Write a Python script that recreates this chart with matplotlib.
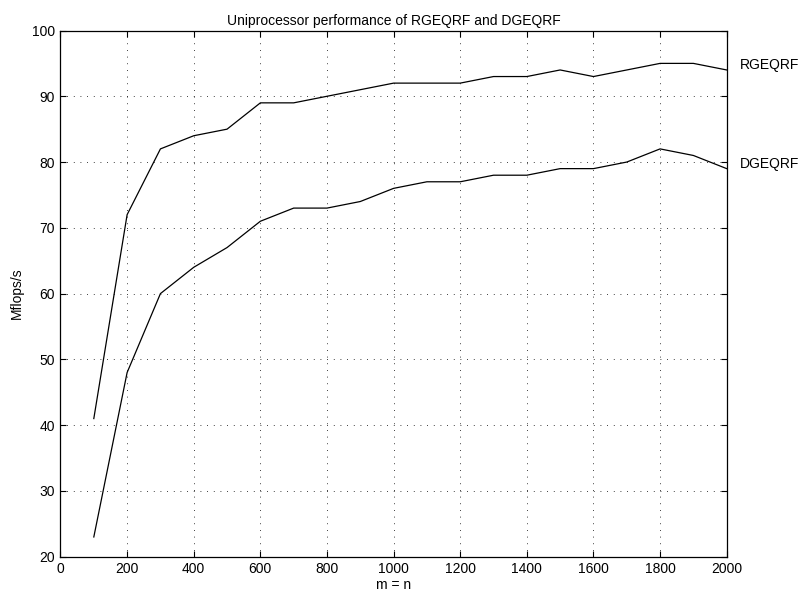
import matplotlib
matplotlib.use("Agg")
import matplotlib.pyplot as plt

plt.rcParams['font.family'] = ['Liberation Sans', 'DejaVu Sans']

sizes = [100, 200, 300, 400, 500, 600, 700, 800, 900, 1000,
         1100, 1200, 1300, 1400, 1500, 1600, 1700, 1800, 1900, 2000]
rgeqrf = [41, 72, 82, 84, 85, 89, 89, 90, 91, 92,
          92, 92, 93, 93, 94, 93, 94, 95, 95, 94]
dgeqrf = [23, 48, 60, 64, 67, 71, 73, 73, 74, 76,
          77, 77, 78, 78, 79, 79, 80, 82, 81, 79]
series_labels = ["RGEQRF", "DGEQRF"]
xticks = list(range(0, 2001, 200))
yticks = list(range(20, 101, 10))

W, H = 803, 596
fig = plt.figure(figsize=(W / 100, H / 100), dpi=100)
left, right, top, bottom = 60.5, 726.7, 30.5, 556.7
ax = fig.add_axes([left / W, 1 - bottom / H, (right - left) / W, (bottom - top) / H])

for ys, lab in zip([rgeqrf, dgeqrf], series_labels):
    ax.plot(sizes, ys, color='black', linewidth=0.9)
    ax.annotate(lab, xy=(sizes[-1], ys[-1]), xycoords='data',
                xytext=(9.5, 3.5 if lab == "RGEQRF" else 3), textcoords='offset points',
                ha='left', va='center', fontsize=10)

ax.set_xlim(0, 2000)
ax.set_ylim(20, 100)
ax.set_xticks(xticks)
ax.set_yticks(yticks)
ax.tick_params(direction='in', length=4, width=0.8, labelsize=10, top=True, right=True, pad=4)
ax.grid(True, linestyle=(0, (1, 7)), color='black', linewidth=0.6)
for s in ax.spines.values():
    s.set_linewidth(0.9)

ax.set_title("Uniprocessor performance of RGEQRF and DGEQRF", fontsize=10, pad=4)
ax.set_xlabel("m = n", fontsize=10, labelpad=1)
ax.set_ylabel("Mflops/s", fontsize=10, labelpad=6)

fig.savefig("out.png", dpi=100)
